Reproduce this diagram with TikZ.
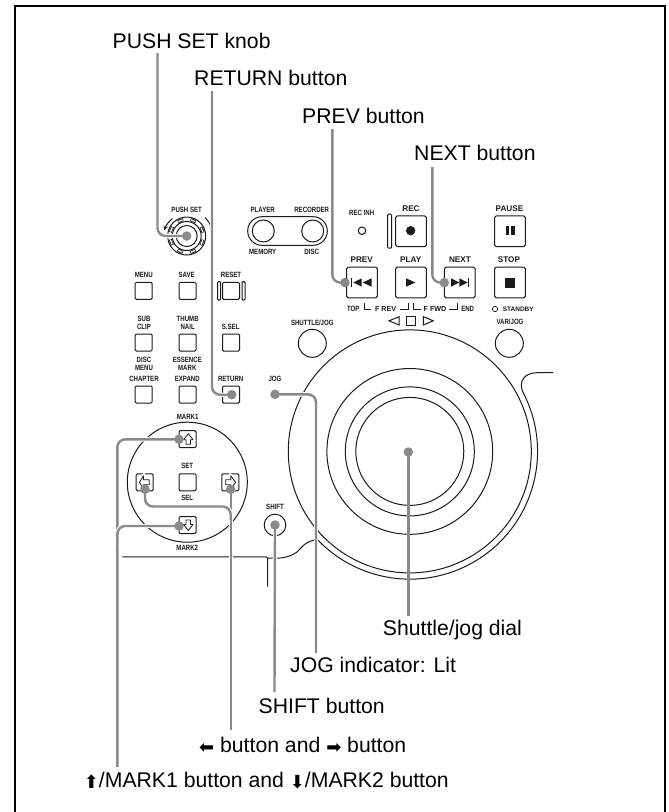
\documentclass[tikz,border=0pt]{standalone}
\usepackage{fontspec}
\setmainfont{Liberation Sans}
\newfontfamily\condfont[FakeStretch=0.8]{Liberation Sans Bold}
\newfontfamily\widefont{Liberation Sans Bold}
\newfontfamily\symfont{DejaVu Sans}
\usetikzlibrary{calc}
\pgfdeclarelayer{dotlayer}
\pgfsetlayers{main,dotlayer}
\definecolor{leadgray}{HTML}{8A8A8A}
\definecolor{ink}{HTML}{1A1A1A}
\newcommand{\fatarrow}[1]{{\symfont\fontsize{18}{18}\selectfont\raisebox{-1.5pt}{#1}}}
\tikzset{
  x=1pt,y=1pt,
  panel/.style={draw=ink,line width=1pt},
  btn/.style={panel,fill=white,rounded corners=1.2pt,minimum size=17pt,inner sep=0pt,outer sep=0pt},
  bigbtn/.style={panel,fill=white,rounded corners=1.5pt,minimum size=30.6pt,inner sep=0pt,outer sep=0pt},
  lab/.style={font=\fontsize{21.2}{24}\selectfont,anchor=base west,inner sep=0pt,text=black},
  tiny/.style={font=\fontsize{7.6}{7.8}\selectfont\condfont,inner sep=0pt,align=center,text=ink},
  trans/.style={font=\fontsize{8.2}{9}\selectfont\widefont,inner sep=0pt,text=ink},
  trsm/.style={font=\fontsize{7.2}{8}\selectfont\widefont,inner sep=0pt,text=ink},
  leader/.style={draw=leadgray,line width=2.4pt,rounded corners=8pt,preaction={draw=white,line width=4.4pt}},
  plainleader/.style={draw=leadgray,line width=2.4pt},
  dot/.style={circle,fill=leadgray,minimum size=9.5pt,inner sep=0pt,outer sep=0pt},
  ring/.style={circle,panel,inner sep=0pt,outer sep=0pt},
  solidmark/.style={fill=ink,draw=none},
  hollow/.style={draw=ink,line width=0.8pt,fill=white,line join=round,preaction={draw=white,line width=3pt}},
}
\begin{document}
\begin{tikzpicture}
\useasboundingbox (0,0) rectangle (669,-812);
% frame
\draw[black,line width=2pt] (15,-812) -- (15,-6) -- (665,-6) -- (665,-812);

% --- dial and chassis
\coordinate (dial) at (409.8,-451.4);
\draw[panel] (dial) circle (121.5);
\draw[panel] (dial) circle (82.9);
\draw[panel] (dial) circle (64.5);
\draw[panel] (dial) circle (54);
\draw[panel] (553,-372.7) -- (537,-372.7) .. controls (525,-372.7) and (518,-381) .. (522.9,-392.1)
   arc[start angle=27.7,end angle=-136,radius=127.7]
   .. controls (307,-540) and (304,-545) .. (297,-552) .. controls (290,-557) and (282,-559) .. (268,-558);
\draw[panel,rounded corners=2pt] (122.3,-556.8) -- (267.7,-556.8) -- (267.7,-586.7);

% --- knob
\node[ring,minimum size=38pt] (knob) at (186.7,-236) {};
\node[ring,minimum size=29pt] (knobmid) at (186.7,-236) {};
\node[ring,minimum size=21pt] (knobin) at (186.7,-236) {};
\foreach \a in {22,67,112,157,202,247,292,337} {
  \draw[ink,line width=3pt] ($(knob.center)+(\a-10:16.7)$) arc[start angle=\a-10,end angle=\a+10,radius=16.7];
  \draw[white,line width=1.3pt] ($(knob.center)+(\a-8:16.7)$) arc[start angle=\a-8,end angle=\a+8,radius=16.7];
}
\node[tiny] (tpush) at (186.7,-210) {PUSH SET};
\draw[panel,-stealth] (172.5,-218.5) arc[start angle=128,end angle=163,radius=24];
\draw[panel] (205,-217.5) arc[start angle=45,end angle=18,radius=27];

% --- player / recorder
\node[panel,draw,rounded corners=14.3pt,minimum width=79.6pt,minimum height=28.6pt,inner sep=0pt] (capsule) at (287.5,-231) {};
\node[ring,minimum size=22pt] (player) at (263.3,-231) {};
\node[ring,minimum size=22pt] (recorder) at (312.7,-231) {};
\node[tiny] (tplayer) at (262.7,-210) {PLAYER};
\node[tiny] (trecorder) at (311.7,-210) {RECORDER};
\node[tiny] (tmemory) at (262.7,-251.7) {MEMORY};
\node[tiny] (tdisc) at (311.7,-251.7) {DISC};

% --- small buttons
\node[btn] (menu) at (143.7,-290.8) {};
\node[btn] (save) at (187.5,-290.8) {};
\node[btn] (reset) at (231,-290.8) {};
\node[panel,rounded corners=1pt,minimum width=3pt,minimum height=18.5pt,inner sep=0pt] (resetl) at (219.2,-290.8) {};
\node[panel,rounded corners=1pt,minimum width=3pt,minimum height=18.5pt,inner sep=0pt] (resetr) at (243.5,-290.8) {};
\node[tiny] (tmenu) at (143.7,-275) {MENU};
\node[tiny] (tsave) at (186.7,-275) {SAVE};
\node[tiny] (treset) at (231,-275) {RESET};
\node[btn] (subclip) at (143.7,-342.5) {};
\node[btn] (thumb) at (187.5,-342.5) {};
\node[btn] (ssel) at (231,-342.5) {};
\node[tiny] (tsub) at (144,-323) {SUB\\CLIP};
\node[tiny] (tthumb) at (187.7,-323) {THUMB\\NAIL};
\node[tiny] (tssel) at (230.7,-326.7) {S.SEL};
\node[btn] (chapter) at (143.7,-394.5) {};
\node[btn] (expand) at (187.5,-394.5) {};
\node[btn] (return) at (231,-394.5) {};
\node[tiny] (tdisc2) at (144,-364) {DISC\\MENU};
\node[tiny] (tess) at (187.3,-364) {ESSENCE\\MARK};
\node[tiny] (tchapter) at (144,-379) {CHAPTER};
\node[tiny] (texpand) at (187.3,-379) {EXPAND};
\node[tiny] (treturn) at (230.7,-379) {RETURN};
\node[tiny] (tjog) at (275,-379) {JOG};
\node[ring,minimum size=28pt] (shuttle) at (312.3,-343.3) {};
\node[tiny] (tshuttle) at (312.3,-322.7) {SHUTTLE/JOG};
\node[ring,minimum size=28pt] (varjog) at (509.3,-343.3) {};
\node[tiny] (tvarjog) at (510,-322.3) {VAR/JOG};

% --- mark cluster
\node[ring,minimum size=120pt] (markc) at (187.3,-482.2) {};
\node[btn] (bup) at (187.5,-439.2) {};
\node[btn] (bleft) at (144.7,-482.3) {};
\node[btn] (bset) at (187.5,-482.3) {};
\node[btn] (bright) at (230.3,-482.3) {};
\node[btn] (bdown) at (187.5,-525) {};
\node[tiny] (tmark1) at (187.7,-416.7) {MARK1};
\node[tiny] (tset) at (187.3,-465.7) {SET};
\node[tiny] (tsel) at (187.3,-498.3) {SEL};
\node[tiny] (tmark2) at (187.3,-548.3) {MARK2};
\draw[hollow,shift={(188,-439.2)}] (-2,-5) -- (-2,-0.5) -- (-4.5,-0.5) -- (0.3,5.5) -- (5,-0.5) -- (2.5,-0.5) -- (2.5,-5) -- cycle;
\draw[hollow,shift={(188,-525)}] (-2,5) -- (-2,0.5) -- (-4.5,0.5) -- (0.3,-5.5) -- (5,0.5) -- (2.5,0.5) -- (2.5,5) -- cycle;
\draw[hollow,shift={(144.7,-482.3)}] (4.5,2.5) -- (-1.3,2.5) -- (-1.3,6.5) -- (-5.3,0) -- (-1.3,-6.5) -- (-1.3,-2.5) -- (4.5,-2.5) -- cycle;
\draw[hollow,shift={(230.3,-482.3)}] (-4.5,2.5) -- (0.5,2.5) -- (0.5,6.5) -- (5.3,0) -- (0.5,-6.5) -- (0.5,-2.5) -- (-4.5,-2.5) -- cycle;

% --- shift
\node[ring,minimum size=21.6pt] (shift) at (275,-525) {};
\node[tiny] (tshift) at (275,-507.3) {SHIFT};

% --- transport
\node[tiny] (trecinh) at (361.7,-212.7) {REC INH};
\node[ring,minimum size=7.5pt] (recled) at (362,-230.7) {};
\node[panel,rounded corners=1pt,minimum width=4pt,minimum height=34pt,inner sep=0pt] (recbar) at (389.7,-231.2) {};
\node[bigbtn] (rec) at (411,-231.2) {};
\node[bigbtn] (pause) at (510,-231.2) {};
\node[bigbtn] (prev) at (362,-282.5) {};
\node[bigbtn] (play) at (411,-282.5) {};
\node[bigbtn] (next) at (459.7,-282.5) {};
\node[bigbtn] (stop) at (510,-282.5) {};
\node[trans] (trec) at (411,-208.3) {REC};
\node[trans] (tpause) at (509.5,-208.3) {PAUSE};
\node[trans] (tprev) at (361.7,-259.7) {PREV};
\node[trans] (tplay) at (410.7,-259.7) {PLAY};
\node[trans] (tnext) at (460,-259.7) {NEXT};
\node[trans] (tstop) at (509,-259.7) {STOP};
\fill[solidmark] (410.7,-230.7) circle (4.7);
\fill[solidmark] (505.5,-226.3) rectangle (509.2,-235.3);
\fill[solidmark] (511.2,-226.3) rectangle (515,-235.3);
\fill[solidmark] (505,-277.5) rectangle (515,-287.5);
\fill[solidmark] (406,-278.3) -- (415.3,-282.5) -- (406,-286.7) -- cycle;
% prev icon
\fill[solidmark] (351.2,-278.3) rectangle (352.2,-286.7);
\fill[solidmark] (353.3,-282.5) -- (361.7,-278.3) -- (361.7,-286.7) -- cycle;
\fill[solidmark] (362.7,-282.5) -- (371.7,-278.3) -- (371.7,-286.7) -- cycle;
% next icon
\fill[solidmark] (451,-278.3) -- (459.3,-282.5) -- (451,-286.7) -- cycle;
\fill[solidmark] (459.3,-278.3) -- (467.7,-282.5) -- (459.3,-286.7) -- cycle;
\fill[solidmark] (468.2,-278.3) rectangle (469.2,-286.7);
% range row
\node[tiny] (ttop) at (353.3,-309) {TOP};
\node[trsm] (tfrev) at (385.7,-309) {F REV};
\node[trsm] (tffwd) at (435,-309) {F FWD};
\node[tiny] (tend) at (467.7,-309) {END};
\draw[panel,line width=.7pt] (364.3,-303.3) -- (364.3,-309.3) -- (371,-309.3);
\draw[panel,line width=.7pt] (400,-309.3) -- (408.3,-309.3) -- (408.3,-303.3);
\draw[panel,line width=.7pt] (413.3,-303.3) -- (413.3,-309.3) -- (421,-309.3);
\draw[panel,line width=.7pt] (449,-309.3) -- (457.3,-309.3) -- (457.3,-303.3);
\node[ring,minimum size=5.4pt,line width=.7pt] (stby) at (495,-309) {};
\node[font=\fontsize{6.5}{7}\selectfont\widefont,inner sep=0pt,text=ink] (tstandby) at (518.3,-309) {STANDBY};
\draw[panel] (389,-320.8) -- (399,-316.7) -- (399,-325) -- cycle;
\draw[panel] (406.7,-316.8) rectangle (415.3,-325);
\draw[panel] (433.3,-320.8) -- (423.3,-316.7) -- (423.3,-325) -- cycle;

% --- callout labels
\node[lab] (lpush) at (112.5,-48) {PUSH SET knob};
\node[lab] (lreturn) at (194,-85) {RETURN button};
\node[lab] (lprev) at (302,-123) {PREV button};
\node[lab] (lnext) at (414,-160) {NEXT button};
\node[lab] (lshuttle) at (382.7,-635) {Shuttle/jog dial};
\node[lab] (ljog) at (290,-672) {JOG indicator: Lit};
\node[lab] (lshift) at (258.5,-713) {SHIFT button};
\node[lab] (larrows) at (199,-752) {\fatarrow{⬅} button and \fatarrow{➡} button};
\node[lab] (lmark) at (83.7,-787) {\fatarrow{⬆}/MARK1 button and \fatarrow{⬇}/MARK2 button};

% --- dots
\begin{pgfonlayer}{dotlayer}
\node[dot] (dpush) at (186.7,-236) {};
\node[dot] (dreturn) at (231.7,-394.7) {};
\node[dot] (dprev) at (345,-282.6) {};
\node[dot] (dnext) at (444.3,-282.6) {};
\node[dot] (djog) at (275,-394.3) {};
\node[dot] (ddial) at (408.3,-452) {};
\node[dot] (dshift) at (275,-525) {};
\node[dot] (dright) at (230.7,-489.3) {};
\node[dot] (dleft) at (145,-489.3) {};
\node[dot] (dup) at (179,-439.3) {};
\node[dot] (ddown) at (179,-526) {};
\end{pgfonlayer}

% --- leader free ends
\coordinate (epush) at (157.5,-53);
\coordinate (ereturn) at (212,-91);
\coordinate (eprev) at (332.3,-129);
\coordinate (enext) at (432.3,-167);
\coordinate (ejog) at (316,-653);
\coordinate (edial) at (408.3,-616);
\coordinate (eshift) at (274.5,-692);
\coordinate (earrow) at (230.7,-730);
\coordinate (emark) at (117.3,-767);
\coordinate (ejoinarrow) at (230.7,-520);
\coordinate (ejoinmark) at (117.3,-545);

% --- leaders
\draw[leader] (epush) |- (dpush.center);
\draw[leader] (ereturn) |- (dreturn.center);
\draw[leader] (eprev) |- (dprev.center);
\draw[leader] (enext) |- (dnext.center);
\draw[leader] (ejog) |- (djog.center);
\draw[plainleader] (edial) -- (ddial.center);
\draw[leader] (eshift) -- (dshift.center);
\draw[leader] (earrow) -- (dright.center);
\draw[leader] (dleft.center) |- (230.7,-506.5) -- (ejoinarrow);
\draw[leader] (emark) |- (dup.center);
\draw[leader] (ejoinmark) |- (ddown.center);
\end{tikzpicture}
\end{document}
